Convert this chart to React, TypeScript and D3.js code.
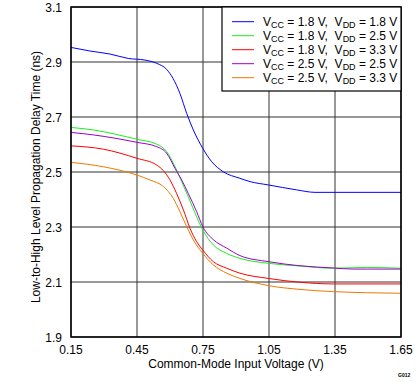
import React from "react";
import * as d3 from "d3";

const xTicks = [0.15, 0.45, 0.75, 1.05, 1.35, 1.65];
const yTicks = [1.9, 2.1, 2.3, 2.5, 2.7, 2.9, 3.1];

const seriesNames = [
  ["1.8", "1.8"],
  ["1.8", "2.5"],
  ["1.8", "3.3"],
  ["2.5", "2.5"],
  ["2.5", "3.3"],
];
const seriesColors = ["#0000ff", "#19f019", "#ff0000", "#9900cc", "#f07800"];

const blue: [number, number][] = [
  [0.15, 2.953], [0.236, 2.94], [0.327, 2.929], [0.41, 2.913], [0.486, 2.907],
  [0.54, 2.895], [0.585, 2.873], [0.614, 2.84], [0.645, 2.786], [0.676, 2.713],
  [0.706, 2.653], [0.749, 2.586], [0.79, 2.537], [0.842, 2.501], [0.918, 2.477],
  [0.964, 2.465], [1.047, 2.453], [1.176, 2.435], [1.259, 2.426], [1.45, 2.426], [1.65, 2.426],
];
const green: [number, number][] = [
  [0.15, 2.662], [0.251, 2.653], [0.449, 2.619], [0.54, 2.601], [0.585, 2.574],
  [0.623, 2.519], [0.653, 2.465], [0.683, 2.41], [0.721, 2.337], [0.749, 2.289],
  [0.797, 2.235], [0.858, 2.204], [0.918, 2.186], [1.047, 2.168], [1.191, 2.158],
  [1.342, 2.15], [1.494, 2.153], [1.65, 2.15],
];
const red: [number, number][] = [
  [0.15, 2.595], [0.297, 2.583], [0.449, 2.55], [0.54, 2.525], [0.57, 2.505],
  [0.6, 2.471], [0.63, 2.422], [0.661, 2.362], [0.691, 2.295], [0.721, 2.247],
  [0.749, 2.216], [0.797, 2.174], [0.858, 2.15], [0.918, 2.132], [1.047, 2.113],
  [1.191, 2.099], [1.342, 2.093], [1.65, 2.093],
];
const purple: [number, number][] = [
  [0.15, 2.644], [0.251, 2.635], [0.449, 2.608], [0.54, 2.592], [0.585, 2.568],
  [0.623, 2.513], [0.653, 2.471], [0.683, 2.422], [0.721, 2.356], [0.749, 2.301],
  [0.797, 2.254], [0.858, 2.223], [0.918, 2.196], [1.047, 2.174], [1.191, 2.159],
  [1.342, 2.151], [1.433, 2.147], [1.65, 2.147],
];
const orange: [number, number][] = [
  [0.15, 2.535], [0.297, 2.519], [0.449, 2.489], [0.509, 2.471], [0.57, 2.447],
  [0.615, 2.404], [0.645, 2.356], [0.676, 2.301], [0.706, 2.253], [0.749, 2.204],
  [0.797, 2.162], [0.858, 2.132], [0.918, 2.113], [1.047, 2.087], [1.191, 2.073],
  [1.342, 2.065], [1.494, 2.061], [1.65, 2.059],
];
const seriesData = [blue, green, red, purple, orange];

const L = 71, R = 401, T = 7, B = 337;

export default function App() {
  const x = d3.scaleLinear().domain([0.15, 1.65]).range([L, R]);
  const y = d3.scaleLinear().domain([1.9, 3.1]).range([B, T]);
  const line = d3
    .line<[number, number]>()
    .x((d) => x(d[0]))
    .y((d) => y(d[1]))
    .curve(d3.curveMonotoneX);
  const font = "Liberation Sans, Arial, sans-serif";

  return (
    <svg width={419} height={382} style={{ position: "absolute", left: 0, top: 0 }} fontFamily={font}>
      <rect x={0} y={0} width={419} height={382} fill="#fff" />
      {xTicks.map((t) => (
        <line key={"gx" + t} x1={x(t)} x2={x(t)} y1={T} y2={B} stroke="#333" strokeWidth={1} />
      ))}
      {yTicks.map((t) => (
        <line key={"gy" + t} x1={L} x2={R} y1={y(t)} y2={y(t)} stroke="#333" strokeWidth={1} />
      ))}
      {seriesData.map((s, i) => (
        <path key={"s" + i} d={line(s) || ""} fill="none" stroke={seriesColors[i]} strokeWidth={1} />
      ))}
      <rect x={L} y={T} width={R - L} height={B - T} fill="none" stroke="#000" strokeWidth={1.5} />
      {/* legend */}
      <rect x={222} y={T} width={R - 222} height={84} fill="#fff" stroke="#000" strokeWidth={1.2} />
      {seriesNames.map((n, i) => {
        const yy = 21.7 + i * 14;
        return (
          <g key={"lg" + i}>
            <line x1={232} x2={254} y1={yy} y2={yy} stroke={seriesColors[i]} strokeWidth={1} />
            <text x={263} y={yy + 4.5} fontSize={12} fill="#000" style={{ whiteSpace: "pre" }}>
              <tspan>V</tspan>
              <tspan fontSize={9} dy={2}>CC</tspan>
              <tspan dy={-2}>{" = " + n[0] + " V,  V"}</tspan>
              <tspan fontSize={9} dy={2}>DD</tspan>
              <tspan dy={-2}>{" = " + n[1] + " V"}</tspan>
            </text>
          </g>
        );
      })}
      {yTicks.map((t) => (
        <text key={"ty" + t} x={62} y={y(t) + 4.5} fontSize={12} textAnchor="end" fill="#000">
          {t.toFixed(1)}
        </text>
      ))}
      {xTicks.map((t) => (
        <text key={"tx" + t} x={x(t)} y={354} fontSize={12} textAnchor="middle" fill="#000">
          {t.toFixed(2)}
        </text>
      ))}
      <text x={(L + R) / 2} y={367.5} fontSize={12} textAnchor="middle" fill="#000">
        Common-Mode Input Voltage (V)
      </text>
      <text
        transform={`translate(40,177) rotate(-90)`}
        fontSize={12}
        textAnchor="middle"
        fill="#000"
      >
        Low-to-High Level Propagation Delay Time (ns)
      </text>
      <text x={398} y={377} fontSize={5} fontWeight="bold" fill="#000">
        G012
      </text>
    </svg>
  );
}
